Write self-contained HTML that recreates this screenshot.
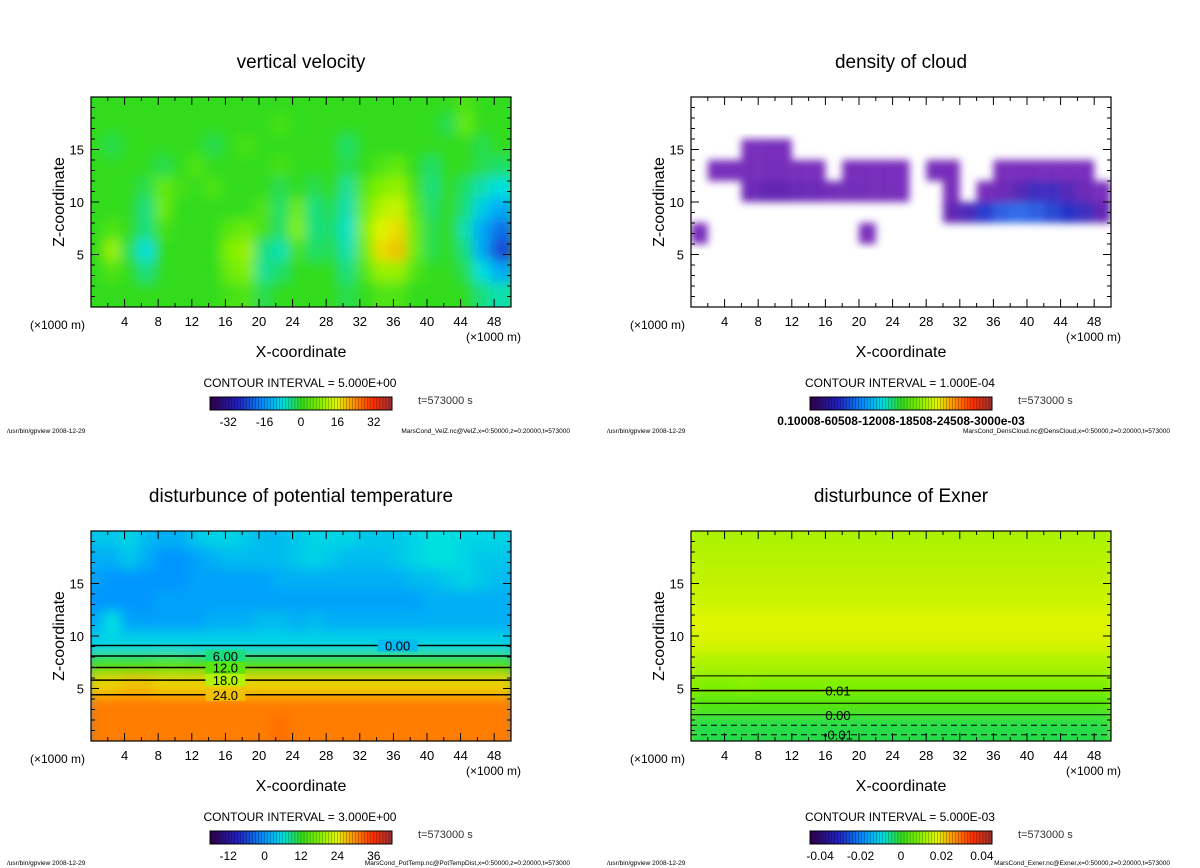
<!DOCTYPE html>
<html><head><meta charset="utf-8">
<style>
body{margin:0;background:#fff;}
svg{display:block;font-family:"Liberation Sans","DejaVu Sans",sans-serif;}
</style></head>
<body>
<svg id="fig" width="1200" height="868" viewBox="0 0 1200 868" xmlns="http://www.w3.org/2000/svg">
<defs>
<filter id="blur" x="-5%" y="-5%" width="110%" height="110%"><feGaussianBlur stdDeviation="6"/></filter>
<filter id="blur2" x="-5%" y="-5%" width="110%" height="110%"><feGaussianBlur stdDeviation="4"/></filter>
</defs>
</svg>
<script>
// ---- data: grids are rows from top (z=19) to bottom (z=1), columns x=1..49 (step 2 km)
const velXcols = 25, velZrows = 10;
const velValues = [
[0,0,0,0,0,0,0,0,0,0,0,0,0,0,0,0,0,0,0,0,0,0,3,0,0],
[0,0,0,0,0,0,0,0,0,0,0,2,0,0,0,0,0,0,0,0,0,-2,5,0,0],
[0,-2,0,0,0,0,0,-2,0,2,0,0,0,0,0,-3,0,0,0,0,0,0,0,-2,0],
[0,0,0,0,-2,0,3,0,0,0,0,2,0,0,0,-2,0,3,5,0,-3,0,0,-2,-3],
[0,0,0,-2,5,2,0,3,0,0,0,-2,0,-2,0,-5,4,8,10,2,-4,0,-3,-6,-8],
[0,0,0,-4,6,0,0,0,0,0,3,-3,6,-4,-2,-6,6,12,14,4,-3,0,-4,-10,-14],
[0,3,0,-4,2,0,0,0,4,6,2,-3,8,-4,-3,-7,8,16,18,6,-2,0,-6,-14,-20],
[0,10,-2,-8,0,0,0,0,8,10,-4,-6,2,-3,-2,-6,6,18,20,6,-2,0,-4,-14,-24],
[0,3,0,-4,0,0,0,0,6,8,-5,-3,0,0,0,-4,3,10,10,3,0,0,-2,-8,-14],
[0,0,0,0,0,0,0,0,2,3,-2,0,0,0,0,-2,0,3,3,0,0,0,0,-4,-6]
];
const cloudValues = [
[0,0,0,0,0,0,0,0,0,0,0,0,0,0,0,0,0,0,0,0,0,0,0,0,0],
[0,0,0,0,0,0,0,0,0,0,0,0,0,0,0,0,0,0,0,0,0,0,0,0,0],
[0,0,0,.05,.05,.05,0,0,0,0,0,0,0,0,0,0,0,0,0,0,0,0,0,0,0],
[0,.05,.05,.06,.06,.06,.05,.05,0,.05,.05,.05,.05,0,.05,.05,0,0,.05,.05,.05,.05,.05,.05,0],
[0,0,0,.1,.15,.15,.12,.1,.08,.08,.06,.06,.05,0,0,.05,0,.05,.1,.2,.3,.3,.2,.1,.05],
[0,0,0,0,0,0,0,0,0,0,0,0,0,0,0,.15,.25,.45,.6,.65,.6,.5,.4,.3,.15],
[.05,0,0,0,0,0,0,0,0,0,.04,0,0,0,0,0,0,0,0,0,0,0,0,0,0],
[0,0,0,0,0,0,0,0,0,0,0,0,0,0,0,0,0,0,0,0,0,0,0,0,0],
[0,0,0,0,0,0,0,0,0,0,0,0,0,0,0,0,0,0,0,0,0,0,0,0,0],
[0,0,0,0,0,0,0,0,0,0,0,0,0,0,0,0,0,0,0,0,0,0,0,0,0]
];
const thetaValues = [
[4,4,5,3,2,2,4,5,5,4,3,3,4,5,5,5,4,4,4,5,6,6,5,5,5],
[2,2,4,2,0,0,1,2,3,3,3,3,4,5,4,3,3,3,4,5,6,6,5,4,4],
[1,0,0,0,0,0,1,1,1,1,1,2,2,2,2,2,2,2,2,3,3,4,5,4,3],
[0,0,0,0,1,1,1,1,1,1,1,1,1,1,1,1,1,1,1,1,2,2,2,2,2],
[2,6,1,1,1,1,1,2,2,2,3,3,2,3,2,2,2,2,2,2,2,2,2,2,2],
[5,5,5,5,5,5,5,5,5,5,5,5,5,5,5,5,5,5,5,5,5,5,5,5,5],
[13,13,13,13,14,14,13,13,13,13,13,13,13,13,13,13,13,13,13,13,13,13,13,13,13],
[26,26,27,27,26,26,26,26,26,26,26,26,26,26,26,26,26,26,26,26,26,26,26,26,26],
[31,31,31,31,31,31,31,31,31,31,31,31,31,31,31,31,31,31,31,31,31,31,31,31,31],
[31,31,31,31,31,31,31,31,31,31,31,32,31,31,31,31,31,31,31,31,31,31,31,31,31]
];
const exnerValues = [
[.013,.013,.013,.013,.013,.013,.013,.013,.013,.013,.013,.013,.013,.013,.013,.013,.013,.013,.013,.013,.013,.013,.013,.013,.013],
[.014,.014,.014,.014,.014,.014,.014,.014,.014,.014,.014,.014,.014,.014,.014,.014,.014,.014,.014,.014,.014,.014,.014,.014,.014],
[.015,.015,.015,.015,.015,.015,.015,.015,.015,.015,.015,.015,.015,.015,.015,.015,.015,.015,.015,.015,.015,.015,.015,.015,.015],
[.016,.016,.016,.016,.016,.016,.016,.016,.016,.016,.016,.016,.016,.016,.016,.016,.016,.016,.016,.016,.016,.016,.016,.016,.016],
[.018,.018,.018,.018,.018,.018,.018,.018,.018,.018,.018,.018,.018,.018,.018,.018,.018,.018,.018,.018,.018,.018,.018,.018,.018],
[.017,.017,.017,.017,.017,.017,.017,.017,.017,.017,.017,.017,.017,.017,.017,.017,.017,.017,.017,.017,.017,.017,.017,.017,.017],
[.013,.013,.013,.013,.013,.013,.013,.013,.013,.013,.013,.013,.013,.013,.013,.013,.013,.013,.013,.013,.013,.013,.013,.013,.013],
[.009,.009,.009,.010,.009,.009,.009,.009,.009,.009,.009,.009,.009,.009,.009,.009,.009,.009,.009,.009,.009,.009,.009,.009,.009],
[.004,.004,.004,.004,.004,.004,.004,.004,.004,.004,.004,.004,.004,.004,.004,.004,.004,.004,.004,.004,.004,.004,.004,.004,.004],
[-.002,-.002,-.002,-.002,-.002,-.002,-.002,-.002,-.002,-.002,-.002,-.002,-.002,-.002,-.002,-.002,-.002,-.002,-.002,-.002,-.002,-.002,-.002,-.002,-.002]
];
const xTickLabels = [4,8,12,16,20,24,28,32,36,40,44,48];
const zTickLabels = [5,10,15];
const thetaContourLevels = [0,6,12,18,24];
const thetaContourZ = [9.1,8.1,7.0,5.8,4.4];
const exnerContourLabels = ["","0.01","","0.00","","-0.01"];
const exnerContourZ = [6.2,4.8,3.6,2.5,1.5,0.6];

const NS="http://www.w3.org/2000/svg";
const svg=document.getElementById('fig');
function mk(tag,attrs,parent){const e=document.createElementNS(NS,tag);for(const k in attrs)e.setAttribute(k,attrs[k]);(parent||svg).appendChild(e);return e;}
const stops=[[0,[48,0,80]],[.15,[32,32,192]],[.3,[0,150,255]],[.4,[0,224,224]],[.5,[50,220,30]],[.6,[128,240,0]],[.7,[225,245,0]],[.8,[255,140,0]],[.9,[255,48,0]],[1,[160,48,48]]];
const cloudStops=[[0,[130,50,190]],[.15,[100,40,180]],[.4,[40,50,200]],[.7,[50,120,240]],[1,[140,210,255]]];
function interp(st,t){t=Math.max(0,Math.min(1,t));for(let i=1;i<st.length;i++){if(t<=st[i][0]){const a=st[i-1],b=st[i];const f=(t-a[0])/(b[0]-a[0]);const c=a[1].map((v,j)=>Math.round(v+(b[1][j]-v)*f));return `rgb(${c})`;}}return `rgb(${st[st.length-1][1]})`;}
const cmap=t=>interp(stops,t);

const panels=[
 {id:'vertical-velocity',ox:0,oy:0,title:'vertical velocity',data:velValues,vmin:-40,vmax:40,ci:'CONTOUR INTERVAL = 5.000E+00',cb:['-32','-16','0','16','32'],cbv:[-32,-16,0,16,32],file:'MarsCond_VelZ.nc@VelZ,x=0:50000,z=0:20000,t=573000',bg:'rgb(50,220,30)'},
 {id:'density-of-cloud',ox:600,oy:0,title:'density of cloud',data:cloudValues,vmin:0,vmax:1,ci:'CONTOUR INTERVAL = 1.000E-04',cbtext:'0.10008-60508-12008-18508-24508-3000e-03',file:'MarsCond_DensCloud.nc@DensCloud,x=0:50000,z=0:20000,t=573000',bg:'#fff',cloud:true},
 {id:'potential-temperature',ox:0,oy:434,title:'disturbunce of potential temperature',data:thetaValues,vmin:-18,vmax:42,ci:'CONTOUR INTERVAL = 3.000E+00',cb:['-12','0','12','24','36'],cbv:[-12,0,12,24,36],file:'MarsCond_PotTemp.nc@PotTempDist,x=0:50000,z=0:20000,t=573000',bg:'rgb(40,150,240)'},
 {id:'exner',ox:600,oy:434,title:'disturbunce of Exner',data:exnerValues,vmin:-.045,vmax:.045,ci:'CONTOUR INTERVAL = 5.000E-03',cb:['-0.04','-0.02','0','0.02','0.04'],cbv:[-.04,-.02,0,.02,.04],file:'MarsCond_Exner.nc@Exner,x=0:50000,z=0:20000,t=573000',bg:'rgb(215,245,0)'}
];

panels.forEach((p,pi)=>{
 const X0=91+p.ox, Y0=97+p.oy, W=420, H=210;
 const g=mk('g',{});
 
 
 const xs=v=>X0+v/50*W, zs=v=>Y0+H-v/20*H;
 const t=mk('text',{x:X0+W/2,y:68+p.oy,'text-anchor':'middle','font-size':19,fill:'#000'},g);t.textContent=p.title;
 
 const cid='clip'+pi;const cp=mk('clipPath',{id:cid},g);mk('rect',{x:X0,y:Y0,width:W,height:H},cp);
 const plot=mk('g',{'clip-path':`url(#${cid})`},g);
 
 mk('rect',{x:X0,y:Y0,width:W,height:H,fill:p.bg},plot);
 const hm=mk('g',{filter:p.cloud?'url(#blur2)':'url(#blur)'},plot);
 const rows=p.data.length, cols=p.data[0].length;
 for(let r=0;r<rows;r++)for(let c=0;c<cols;c++){
  const v=p.data[r][c];
  if(p.cloud && v<=0) continue;
  const fill=p.cloud? interp(cloudStops,v) : cmap((v-p.vmin)/(p.vmax-p.vmin));
  const zTop=20-r*2, xL=c*2;
  const pad=p.cloud?0:4;
  const cell=mk('rect',{x:xs(xL)-pad,y:zs(zTop)-(r==0?12:pad),width:xs(2)-X0+2*pad,height:zs(0)-zs(2)+2*pad+(r==rows-1?12:0)+(r==0?8:0),fill:fill},hm);
  
  
 }
 if(pi==2){
  thetaContourZ.forEach((z,i)=>{
   const ln=mk('line',{x1:X0,x2:X0+W,y1:zs(z),y2:zs(z),stroke:'#000','stroke-width':1.5},plot);
   
   const lx=i==0?X0+W*0.73:X0+W*0.32;
   mk('rect',{x:lx-20,y:zs(z)-6,width:40,height:12,fill:cmap((thetaContourLevels[i]+3-p.vmin)/(p.vmax-p.vmin))},plot);
   const tl=mk('text',{x:lx,y:zs(z)+5,'text-anchor':'middle','font-size':13},plot);
   tl.textContent=thetaContourLevels[i]===0?'0.00':(thetaContourLevels[i]<10?thetaContourLevels[i].toFixed(2):thetaContourLevels[i].toFixed(1));
   
  });
 }
 if(pi==3){
  exnerContourZ.forEach((z,i)=>{
   const ln=mk('line',{x1:X0,x2:X0+W,y1:zs(z),y2:zs(z),stroke:'#000','stroke-width':i==1?1.6:1,'stroke-dasharray':i>=4?'6 4':'none'},plot);
   
   if(exnerContourLabels[i]){
    const tl=mk('text',{x:X0+W*0.35,y:zs(z)+5,'text-anchor':'middle','font-size':13},plot);
    tl.textContent=exnerContourLabels[i];
    
   }
  });
 }
 mk('rect',{x:X0,y:Y0,width:W,height:H,fill:'none',stroke:'#000','stroke-width':1.2},g);
 for(let v=2;v<50;v+=2){const L=v%4==0?8:4;mk('line',{x1:xs(v),x2:xs(v),y1:Y0+H,y2:Y0+H-L,stroke:'#000'},g);mk('line',{x1:xs(v),x2:xs(v),y1:Y0,y2:Y0+L,stroke:'#000'},g);}
 for(let v=1;v<20;v++){const L=v%5==0?8:4;mk('line',{x1:X0,x2:X0+L,y1:zs(v),y2:zs(v),stroke:'#000'},g);mk('line',{x1:X0+W,x2:X0+W-L,y1:zs(v),y2:zs(v),stroke:'#000'},g);}
 xTickLabels.forEach(v=>{const e=mk('text',{x:xs(v),y:Y0+H+19,'text-anchor':'middle','font-size':13},g);e.textContent=v;});
 zTickLabels.forEach(v=>{const e=mk('text',{x:X0-7,y:zs(v)+5,'text-anchor':'end','font-size':13},g);e.textContent=v;});
 let e=mk('text',{x:30+p.ox,y:Y0+H+22,'font-size':12},g);e.textContent='(×1000 m)';
 e=mk('text',{x:X0+W+10,y:Y0+H+34,'text-anchor':'end','font-size':12},g);e.textContent='(×1000 m)';
 e=mk('text',{x:X0+W/2,y:357+p.oy,'text-anchor':'middle','font-size':16},g);e.textContent='X-coordinate';
 e=mk('text',{x:0,y:0,'text-anchor':'middle','font-size':16,transform:`translate(${64+p.ox},${Y0+H/2}) rotate(-90)`},g);e.textContent='Z-coordinate';
 e=mk('text',{x:300+p.ox,y:387+p.oy,'text-anchor':'middle','font-size':12},g);e.textContent=p.ci;
 const cbx=210+p.ox, cbw=182, cby=397+p.oy, cbh=13;
 const cb=mk('g',{},g);
 const N=60;
 for(let i=0;i<N;i++){mk('rect',{x:cbx+i*cbw/N,y:cby,width:cbw/N+0.3,height:cbh,fill:cmap(i/(N-1))},cb);
  mk('line',{x1:cbx+i*cbw/N,x2:cbx+i*cbw/N,y1:cby,y2:cby+cbh,stroke:'#000','stroke-width':0.4,'stroke-opacity':0.6},cb);}
 mk('rect',{x:cbx,y:cby,width:cbw,height:cbh,fill:'none',stroke:'#000'},cb);
 if(p.cb){p.cbv.forEach((v,i)=>{const te=mk('text',{x:cbx+(v-p.vmin)/(p.vmax-p.vmin)*cbw,y:cby+29,'text-anchor':'middle','font-size':12},cb);te.textContent=p.cb[i];});}
 else {const te=mk('text',{x:cbx+cbw/2,y:cby+28,'text-anchor':'middle','font-size':12,'font-weight':'bold'},cb);te.textContent=p.cbtext;}
 e=mk('text',{x:418+p.ox,y:404+p.oy,'font-size':11,fill:'#333'},g);e.textContent='t=573000 s';
 const fy=p.oy?865:433;
 e=mk('text',{x:7+p.ox,y:fy,'font-size':6.5},g);e.textContent='/usr/bin/gpview   2008-12-29';
 e=mk('text',{x:570+p.ox,y:fy,'text-anchor':'end','font-size':6.5},g);e.textContent=p.file;
});
</script>
</body></html>
